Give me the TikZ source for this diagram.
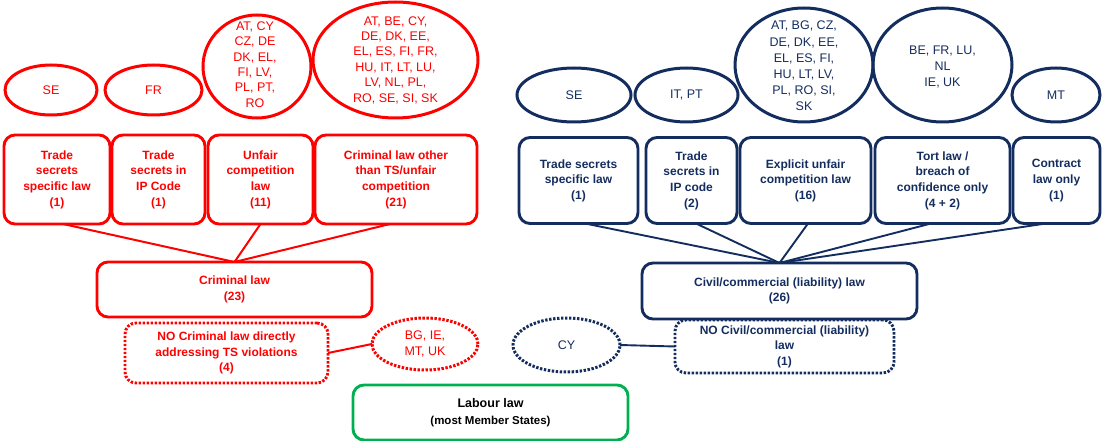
\documentclass[tikz,border=0pt]{standalone}
\usepackage{fontspec}
\setmainfont{Liberation Sans}
\usetikzlibrary{shapes.geometric}
\definecolor{myred}{RGB}{255,0,0}
\definecolor{mynavy}{RGB}{20,45,95}
\definecolor{mygreen}{RGB}{0,176,80}
\begin{document}
\begin{tikzpicture}[x=1pt,y=-1pt,
  every node/.style={inner sep=0pt, outer sep=0pt},
  rbox/.style={draw=myred, text=myred, rectangle, rounded corners=11pt, line width=2.9pt, align=center, font=\bfseries\fontsize{12}{15.6}\selectfont},
  bbox/.style={draw=mynavy, text=mynavy, rectangle, rounded corners=11pt, line width=2.9pt, align=center, font=\bfseries\fontsize{12}{15.6}\selectfont},
  gbox/.style={draw=mygreen, text=black, rectangle, rounded corners=11pt, line width=2.9pt, align=center, font=\bfseries\fontsize{12.5}{16.5}\selectfont},
  rell/.style={ellipse, draw=myred, text=myred, line width=3pt, align=center, font=\fontsize{12.5}{15.4}\selectfont},
  bell/.style={ellipse, draw=mynavy, text=mynavy, line width=3pt, align=center, font=\fontsize{12.5}{16.2}\selectfont},
  rtxt/.style={text=myred, align=center, font=\fontsize{12.5}{15.4}\selectfont},
  btxt/.style={text=mynavy, align=center, font=\fontsize{12.5}{16.2}\selectfont},
  dots/.style={dash pattern=on 2.4pt off 1.6pt},
  rline/.style={draw=myred, line width=2pt},
  bline/.style={draw=mynavy, line width=1.9pt},
]
\useasboundingbox (0,0) rectangle (1104,441);

% ---------- left (criminal) ----------
\node[rell, minimum width=92, minimum height=50] (le1) at (51,90) {SE};
\node[rell, minimum width=97, minimum height=50] (le2) at (153.5,90) {FR};
\node[rell, minimum width=108, minimum height=103] (le3) at (257,66.5) {};
\node[rtxt] (lt3) at (255,64.5) {AT, CY\\CZ, DE\\DK, EL,\\FI, LV,\\PL, PT,\\RO};
\node[rell, minimum width=165, minimum height=116] (le4) at (395.5,60) {};
\node[rtxt] (lt4) at (395.5,60) {AT, BE, CY,\\DE, DK, EE,\\EL, ES, FI, FR,\\HU, IT, LT, LU,\\LV, NL, PL,\\RO, SE, SI, SK};

\node[rbox, minimum width=106, minimum height=89] (l1) at (57,179.5) {Trade\\secrets\\specific law\\(1)};
\node[rbox, minimum width=93, minimum height=89] (l2) at (158.5,179.5) {Trade\\secrets in\\IP Code\\(1)};
\node[rbox, minimum width=105, minimum height=89] (l3) at (260.5,179.5) {Unfair\\competition\\law\\(11)};
\node[rbox, minimum width=162, minimum height=89] (l4) at (396,179.5) {Criminal law other\\than TS/unfair\\competition\\(21)};

\node[rbox, minimum width=275, minimum height=55] (crim) at (234.5,289.5) {Criminal law\\(23)};
\node[rbox, dots, minimum width=203, minimum height=60] (nocrim) at (226.5,353) {NO Criminal law directly\\addressing TS violations\\(4)};
\node[rell, dots, minimum width=106, minimum height=52] (bg) at (425,344) {BG, IE,\\MT, UK};

\draw[rline] ([xshift=6]l1.south) -- (crim.north);
\draw[rline] (l3.south) -- (crim.north);
\draw[rline] ([xshift=-6]l4.south) -- (crim.north);
\draw[rline] (nocrim.east) -- (bg.west);

% ---------- right (civil) ----------
\node[bell, minimum width=114, minimum height=54] (re1) at (574,95) {SE};
\node[bell, minimum width=103, minimum height=54] (re2) at (686.5,95) {IT, PT};
\node[bell, minimum width=138, minimum height=114] (re3) at (804,65) {};
\node[btxt] (rt3) at (804,66) {AT, BG, CZ,\\DE, DK, EE,\\EL, ES, FI,\\HU, LT, LV,\\PL, RO, SI,\\SK};
\node[bell, minimum width=139, minimum height=114] (re4) at (942.5,65) {};
\node[btxt] (rt4) at (942.5,67) {BE, FR, LU,\\NL\\IE, UK};
\node[bell, minimum width=88, minimum height=54] (re5) at (1056,95) {MT};

\node[bbox, minimum width=119, minimum height=86] (r1) at (578.5,180.5) {Trade secrets\\specific law\\(1)};
\node[bbox, minimum width=91, minimum height=86] (r2) at (691.5,180.5) {Trade\\secrets in\\IP code\\(2)};
\node[bbox, minimum width=131, minimum height=86] (r3) at (805.5,180.5) {Explicit unfair\\competition law\\(16)};
\node[bbox, minimum width=135, minimum height=86] (r4) at (942.5,180.5) {Tort law /\\breach of\\confidence only\\(4 + 2)};
\node[bbox, minimum width=87, minimum height=86] (r5) at (1056.5,180.5) {Contract\\law only\\(1)};

\node[bbox, minimum width=275, minimum height=56] (civ) at (779.5,291) {Civil/commercial (liability) law\\(26)};
\node[bbox, dots, minimum width=219, minimum height=53] (nociv) at (784.5,346.5) {NO Civil/commercial (liability)\\law\\(1)};
\node[bell, dots, minimum width=107, minimum height=54] (cy) at (566.5,345) {CY};

\draw[bline] ([xshift=6.5]r1.south) -- (civ.north);
\draw[bline] ([xshift=4.5]r2.south) -- (civ.north);
\draw[bline] ([xshift=2.5]r3.south) -- (civ.north);
\draw[bline] ([xshift=-11.5]r4.south) -- (civ.north);
\draw[bline] ([xshift=-10.5]r5.south) -- (civ.north);
\draw[bline] (cy.east) -- (nociv.west);

% ---------- labour law ----------
\node[gbox, minimum width=275, minimum height=55] (lab) at (490.5,412.5) {Labour law\\{\fontsize{11.5}{14}\selectfont(most Member States)}};
\end{tikzpicture}
\end{document}
